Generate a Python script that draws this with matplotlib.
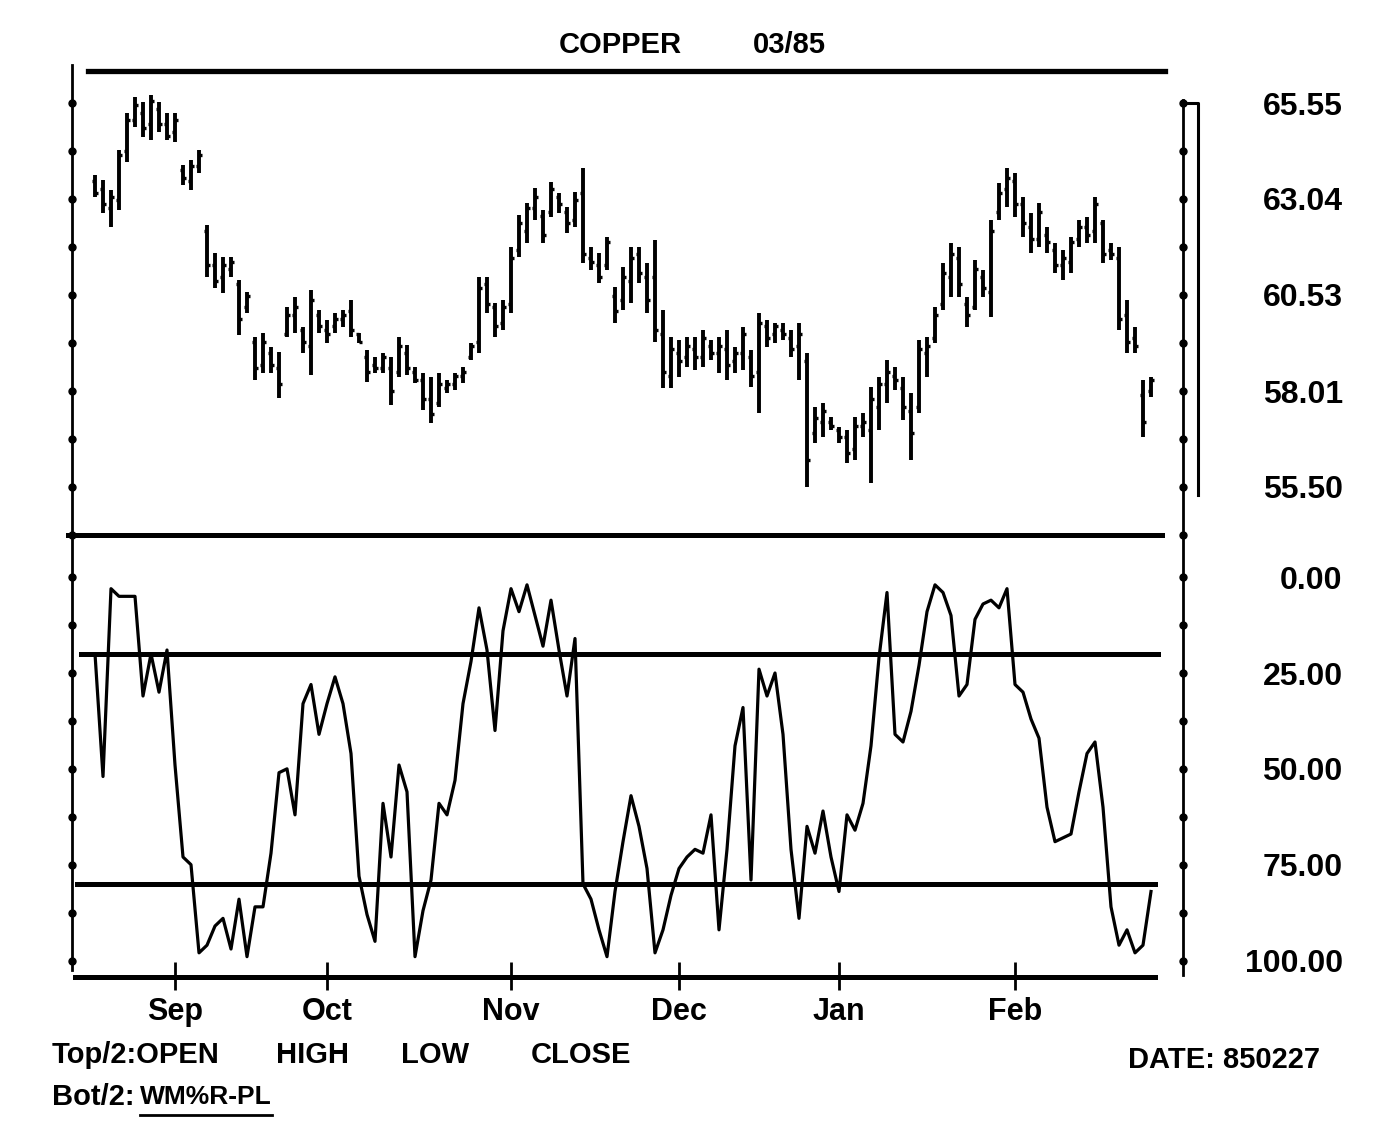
import numpy as np
import pandas as pd
import matplotlib
matplotlib.use('Agg')
import matplotlib.pyplot as plt
import matplotlib.transforms as mtransforms
from matplotlib.lines import Line2D

plt.rcParams['font.family'] = ['Liberation Sans', 'DejaVu Sans']
plt.rcParams['font.weight'] = 'bold'

# trading days, Aug 20 1984 .. Feb 27 1985
holidays = ['1984-09-03', '1984-11-22', '1984-12-25', '1985-01-01', '1985-02-18']
days = pd.bdate_range('1984-08-20', '1985-02-27')
days = days[~days.isin(pd.to_datetime(holidays))]

high = [63.66, 63.53, 63.27, 64.32, 65.29, 65.71, 65.58, 65.76, 65.58, 65.29,
        65.29, 63.93, 64.06, 64.32, 62.36, 61.62, 61.52, 61.52, 60.92, 60.60,
        59.42, 59.53, 59.16, 59.03, 60.21, 60.47, 59.69, 60.65, 60.13, 59.87,
        60.05, 60.13, 60.39, 59.53, 59.08, 58.90, 59.01, 58.90, 59.42, 59.21,
        58.64, 58.48, 58.38, 58.48, 58.30, 58.48, 58.64, 59.27, 61.00, 61.00,
        60.31, 60.39, 61.78, 62.62, 62.93, 63.32, 62.75, 63.48, 63.19, 62.83,
        63.22, 63.85, 61.78, 61.62, 62.04, 60.73, 61.26, 61.78, 61.78, 61.36,
        61.96, 60.13, 59.42, 59.35, 59.42, 59.42, 59.61, 59.35, 59.42, 59.61,
        59.16, 59.69, 59.08, 60.05, 59.87, 59.79, 59.79, 59.61, 59.79, 59.01,
        57.59, 57.70, 57.33, 57.07, 56.99, 57.33, 57.43, 58.12, 58.38, 58.82,
        58.64, 58.38, 57.96, 59.35, 59.42, 60.21, 61.36, 61.89, 61.78, 60.47,
        61.44, 61.18, 62.49, 63.46, 63.85, 63.72, 63.09, 62.67, 62.93, 62.30,
        61.89, 61.70, 62.04, 62.49, 62.57, 63.09, 62.49, 61.89, 61.78, 60.39,
        59.69, 58.30, 58.38]
low = [63.09, 62.67, 62.30, 62.75, 64.01, 64.92, 64.66, 64.58, 64.79, 64.58,
       64.53, 63.40, 63.27, 63.72, 61.00, 60.71, 60.58, 61.00, 59.48, 60.05,
       58.30, 58.48, 58.48, 57.83, 59.42, 59.53, 59.01, 58.43, 59.53, 59.27,
       59.53, 59.69, 59.42, 59.27, 58.25, 58.48, 58.48, 57.64, 58.38, 58.43,
       58.22, 57.51, 57.17, 57.59, 57.96, 58.04, 58.22, 58.82, 59.01, 60.05,
       59.42, 59.61, 60.05, 61.52, 61.89, 62.49, 61.89, 62.57, 62.67, 62.15,
       62.30, 61.36, 61.18, 60.84, 61.18, 59.79, 60.13, 60.31, 60.84, 60.05,
       59.29, 58.09, 58.09, 58.38, 58.64, 58.56, 58.64, 58.82, 58.48, 58.30,
       58.48, 58.56, 58.12, 57.43, 59.16, 59.27, 59.35, 58.90, 58.30, 55.50,
       56.65, 56.81, 56.99, 56.65, 56.13, 56.20, 56.81, 55.60, 56.99, 57.70,
       58.04, 57.25, 56.20, 57.43, 58.38, 59.27, 60.13, 60.47, 60.47, 59.69,
       60.13, 60.47, 59.95, 62.49, 62.83, 62.57, 62.04, 61.62, 61.78, 61.62,
       61.10, 60.92, 61.10, 61.78, 61.89, 61.89, 61.36, 61.44, 59.61, 59.01,
       59.01, 56.81, 57.85]
opn = [63.5, 63.3, 62.8, 63.0, 64.3, 65.1, 65.3, 65.0, 65.4, 65.0,
       64.8, 63.8, 63.5, 63.9, 62.2, 61.3, 61.0, 61.2, 60.8, 60.2,
       59.3, 58.7, 59.0, 58.6, 59.5, 60.0, 59.6, 59.2, 60.0, 59.6,
       59.7, 59.9, 60.1, 59.5, 58.9, 58.7, 58.6, 58.6, 58.5, 59.0,
       58.5, 58.3, 57.8, 57.7, 58.1, 58.2, 58.4, 58.9, 59.3, 60.8,
       60.2, 59.8, 60.3, 61.7, 62.2, 62.8, 62.6, 62.7, 63.1, 62.7,
       62.5, 63.2, 61.5, 61.3, 61.3, 60.5, 60.4, 60.9, 61.6, 61.0,
       61.0, 59.5, 58.4, 59.0, 58.9, 59.1, 58.9, 59.2, 59.0, 59.1,
       58.8, 59.0, 58.9, 58.5, 59.7, 59.5, 59.6, 59.4, 59.2, 58.8,
       56.9, 57.2, 57.2, 57.0, 56.8, 56.5, 57.1, 57.0, 57.6, 58.2,
       58.4, 58.1, 57.5, 57.6, 59.0, 59.4, 60.3, 61.0, 61.5, 60.3,
       60.2, 61.0, 60.6, 62.7, 63.3, 63.5, 62.9, 62.3, 62.0, 62.1,
       61.7, 61.3, 61.4, 62.0, 62.3, 62.2, 62.4, 61.7, 61.5, 60.0,
       59.4, 57.9, 58.0]
close = [63.2, 62.9, 63.1, 64.2, 65.1, 65.5, 64.9, 65.6, 65.0, 64.7,
         65.1, 63.6, 63.9, 64.2, 61.3, 60.9, 61.3, 61.4, 59.9, 60.5,
         58.6, 59.3, 58.7, 58.2, 60.0, 60.2, 59.3, 60.4, 59.7, 59.5,
         59.9, 60.0, 59.6, 59.3, 58.5, 58.6, 58.9, 58.0, 59.2, 58.6,
         58.3, 57.8, 57.4, 58.2, 58.2, 58.4, 58.5, 59.2, 60.7, 60.3,
         59.7, 60.2, 61.5, 62.4, 62.8, 63.1, 62.1, 63.3, 62.9, 62.4,
         63.0, 61.6, 61.4, 61.0, 61.9, 60.1, 61.0, 61.5, 61.1, 60.4,
         59.6, 58.5, 59.1, 58.8, 59.2, 58.9, 59.4, 59.0, 59.2, 58.7,
         59.0, 59.5, 58.4, 59.8, 59.4, 59.7, 59.5, 59.1, 59.5, 56.2,
         57.3, 57.5, 57.1, 56.8, 56.4, 57.1, 57.2, 57.8, 58.2, 58.5,
         58.3, 57.6, 56.9, 59.1, 59.2, 60.0, 61.1, 61.6, 60.8, 60.0,
         61.2, 60.7, 62.2, 63.2, 63.6, 62.9, 62.4, 62.0, 62.7, 61.9,
         61.3, 61.5, 61.9, 62.3, 62.1, 62.9, 61.6, 61.6, 59.9, 59.3,
         59.2, 57.2, 58.3]
# Williams %R (0 = top, 100 = bottom)
wpr = [20, 52, 3, 5, 5, 5, 31, 20, 30, 19,
       49, 73, 75, 98, 96, 91, 89, 97, 84, 99,
       86, 86, 72, 51, 50, 62, 33, 28, 41, 33,
       26, 33, 46, 78, 88, 95, 59, 73, 49, 56,
       99, 87, 79, 59, 62, 53, 33, 22, 8, 19,
       40, 14, 3, 9, 2, 10, 18, 6, 19, 31,
       16, 80, 84, 92, 99, 82, 69, 57, 65, 76,
       98, 92, 83, 76, 73, 71, 72, 62, 92, 71,
       44, 34, 79, 24, 31, 25, 41, 71, 89, 65,
       72, 61, 73, 82, 62, 66, 59, 44, 21, 4,
       41, 43, 35, 23, 9, 2, 4, 10, 31, 28,
       11, 7, 6, 8, 3, 28, 30, 37, 42, 60,
       69, 68, 67, 56, 46, 43, 60, 86, 96, 92,
       98, 96, 82]

price_labels = [65.55, 63.04, 60.53, 58.01, 55.50]
wpr_labels = [0, 25, 50, 75, 100]
wpr_bands = [20, 80]
month_labels = ['Sep', 'Oct', 'Nov', 'Dec', 'Jan', 'Feb']

x = np.arange(len(days))
months = pd.Series(days.to_period('M'))
month_pos = [int(np.argmax(months.values == pd.Period(f'{y}-{m:02d}', 'M')))
             for y, m in [(1984, 9), (1984, 10), (1984, 11), (1984, 12), (1985, 1), (1985, 2)]]

W, H = 1379, 1141
fig = plt.figure(figsize=(W / 100, H / 100), dpi=100)
fig.patch.set_facecolor('white')


def box(x0, y0, x1, y1):
    return [x0 / W, 1 - y1 / H, (x1 - x0) / W, (y1 - y0) / H]


ax_top = fig.add_axes(box(75, 71, 1183, 535))
ax_bot = fig.add_axes(box(75, 535, 1183, 977))

for ax in (ax_top, ax_bot):
    ax.set_xlim(-2.5, 136)
    for s in ax.spines.values():
        s.set_visible(False)
    ax.set_xticks([])
    ax.set_facecolor('none')

ax_top.set_ylim(54.24, 66.39)
ax_bot.set_ylim(104.3, -11.0)

# price bars
ax_top.vlines(x, low, high, color='k', lw=2.8)
ax_top.hlines(opn, x - 0.35, x, color='k', lw=2.4)
ax_top.hlines(close, x, x + 0.35, color='k', lw=2.4)

# %R line
ax_bot.plot(x, wpr, color='k', lw=2.3)
ax_bot.axhline(wpr_bands[0], xmin=0.005, xmax=0.977, color='k', lw=3.6)
ax_bot.axhline(wpr_bands[1], xmin=0.0, xmax=0.975, color='k', lw=3.6)

# frame rules
ax_top.axhline(66.39, xmin=0.012, xmax=0.984, color='k', lw=3.8, clip_on=False)
ax_top.axhline(54.24, xmin=-0.006, xmax=0.981, color='k', lw=3.6, clip_on=False)
ax_bot.axhline(104.3, xmin=0.0, xmax=0.975, color='k', lw=3.6, clip_on=False)

# vertical axes with dot ticks
fig.add_artist(Line2D([72 / W, 72 / W], [1 - 65 / H, 1 - 970 / H], color='k', lw=2))
fig.add_artist(Line2D([1183 / W, 1183 / W], [1 - 100 / H, 1 - 975 / H], color='k', lw=2))

price_ticks = sorted(price_labels + [(a + b) / 2 for a, b in zip(price_labels[:-1], price_labels[1:])]
                     + [price_labels[-1] - (price_labels[0] - price_labels[1]) / 2])
wpr_ticks = np.arange(0, 101, 12.5)
for ax, ticks in ((ax_top, price_ticks), (ax_bot, wpr_ticks)):
    tr = mtransforms.blended_transform_factory(ax.transAxes, ax.transData)
    ax.plot(np.full(len(ticks), -0.0027), ticks, 'o', ms=5, color='k', transform=tr, clip_on=False)
    ax.plot(np.full(len(ticks), 1.0), ticks, 'o', ms=5, color='k', transform=tr, clip_on=False)

# price range bracket on the right
tr = mtransforms.blended_transform_factory(ax_top.transAxes, ax_top.transData)
ax_top.plot([1.0, 1.0135, 1.0135], [price_labels[0], price_labels[0], price_labels[-1] - 0.2],
            color='k', lw=2.2, transform=tr, clip_on=False)

# right axis labels
ax_top.yaxis.tick_right()
ax_top.set_yticks(price_labels)
ax_top.set_yticklabels([f'{v:.2f}' for v in price_labels])
ax_bot.yaxis.tick_right()
ax_bot.set_yticks(wpr_labels)
ax_bot.set_yticklabels([f'{v:.2f}' for v in wpr_labels])
for ax in (ax_top, ax_bot):
    ax.tick_params(axis='y', length=0, pad=115, labelsize=23)
    for lab in ax.get_yticklabels():
        lab.set_ha('right')
        lab.set_fontweight('bold')

# month ticks and labels
trb = mtransforms.blended_transform_factory(ax_bot.transData, ax_bot.transAxes)
ax_bot.vlines(month_pos, -0.03, 0.034, color='k', lw=2, transform=trb, clip_on=False)
for p, lab in zip(month_pos, month_labels):
    ax_bot.text(p, -0.08, lab, transform=trb, ha='center', va='center',
                fontsize=22, fontweight='bold')

# title and footer
fs = 21
fig.text(620 / W, 1 - 45 / H, 'COPPER', ha='center', va='center', fontsize=fs, fontweight='bold')
fig.text(789 / W, 1 - 45 / H, '03/85', ha='center', va='center', fontsize=fs, fontweight='bold')
fig.text(52 / W, 1 - 1055 / H, 'Top/2:OPEN', ha='left', va='center', fontsize=fs, fontweight='bold')
fig.text(312 / W, 1 - 1055 / H, 'HIGH', ha='center', va='center', fontsize=fs, fontweight='bold')
fig.text(435 / W, 1 - 1055 / H, 'LOW', ha='center', va='center', fontsize=fs, fontweight='bold')
fig.text(581 / W, 1 - 1055 / H, 'CLOSE', ha='center', va='center', fontsize=fs, fontweight='bold')
fig.text(52 / W, 1 - 1097 / H, 'Bot/2:', ha='left', va='center', fontsize=fs, fontweight='bold')
fig.text(140 / W, 1 - 1097 / H, 'WM%R-PL', ha='left', va='center', fontsize=19, fontweight='bold')
fig.add_artist(Line2D([140 / W, 272 / W], [1 - 1115 / H, 1 - 1115 / H], color='k', lw=2))
fig.text(1320 / W, 1 - 1060 / H, 'DATE: 850227', ha='right', va='center', fontsize=fs, fontweight='bold')

fig.savefig('out.png', dpi=100, facecolor='white')
